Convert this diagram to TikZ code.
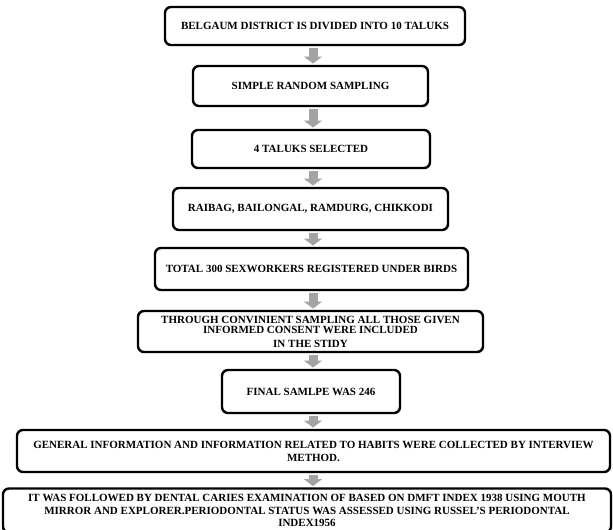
\documentclass[tikz,border=0pt]{standalone}
\usepackage{fontspec}
\setmainfont{Liberation Serif}
\usetikzlibrary{positioning,arrows.meta,shadows}
\definecolor{arrowgray}{HTML}{A3A3A3}

\begin{document}
\begin{tikzpicture}[
      x=1pt,y=-1pt,
      box/.style={draw,line width=2.4pt,rounded corners=6pt,fill=white,align=center,
        font=\fontsize{11}{13}\selectfont\bfseries,inner sep=2pt,
        drop shadow={opacity=0.25,shadow xshift=1.2pt,shadow yshift=-1.2pt}},
      flow/.style={line width=9pt,draw=arrowgray,shorten <=1.5pt,shorten >=1.2pt,
        -{Triangle[width=18pt,length=7pt]}}]

    \useasboundingbox (0,0) rectangle (613,530);
    \coordinate (axis) at (313,0);

    \node[box,minimum width=300pt,minimum height=38pt] (district) at (315,26)   {BELGAUM DISTRICT IS DIVIDED INTO 10 TALUKS};
    \node[box,minimum width=235pt,minimum height=40pt] (srs)      at (310.5,86) {SIMPLE RANDOM SAMPLING};
    \node[box,minimum width=238pt,minimum height=38pt] (taluks)   at (311,149)  {4 TALUKS SELECTED};
    \node[box,minimum width=275pt,minimum height=42pt] (names)    at (310.5,209) {RAIBAG, BAILONGAL, RAMDURG, CHIKKODI};
    \node[box,minimum width=313pt,minimum height=42pt] (total)    at (311.5,269) {TOTAL 300 SEXWORKERS REGISTERED UNDER BIRDS};
    \node[box,minimum width=345pt,minimum height=41pt,
          font=\fontsize{11}{10}\selectfont\bfseries] (consent) at (310.5,331.5)
          {THROUGH CONVINIENT SAMPLING ALL THOSE GIVEN\\INFORMED CONSENT WERE INCLUDED\\[4pt]IN THE STIDY};
    \node[box,minimum width=178pt,minimum height=43pt] (final)    at (311,391.5) {FINAL SAMLPE WAS 246};
    \node[box,minimum width=593pt,minimum height=42pt] (general)  at (313.5,451)
          {GENERAL INFORMATION AND INFORMATION RELATED TO HABITS WERE COLLECTED BY INTERVIEW\\METHOD.};
    \node[box,minimum width=608pt,minimum height=44pt,
          font=\fontsize{11}{12.5}\selectfont\bfseries] (dental)   at (307,510.5)
          {IT WAS FOLLOWED BY DENTAL CARIES EXAMINATION OF BASED ON DMFT INDEX 1938 USING MOUTH\\
           MIRROR AND EXPLORER.PERIODONTAL STATUS WAS ASSESSED USING RUSSEL’S PERIODONTAL\\INDEX1956};

    \draw[flow] (district.south -| axis) -- (srs.north -| axis);
    \draw[flow] (srs.south -| axis) -- (taluks.north -| axis);
    \draw[flow] (taluks.south -| axis) -- (names.north -| axis);
    \draw[flow] (names.south -| axis) -- (total.north -| axis);
    \draw[flow] (total.south -| axis) -- (consent.north -| axis);
    \draw[flow] (consent.south -| axis) -- (final.north -| axis);
    \draw[flow] (final.south -| axis) -- (general.north -| axis);
    \draw[flow] (general.south -| axis) -- (dental.north -| axis);
  \end{tikzpicture}
\end{document}
